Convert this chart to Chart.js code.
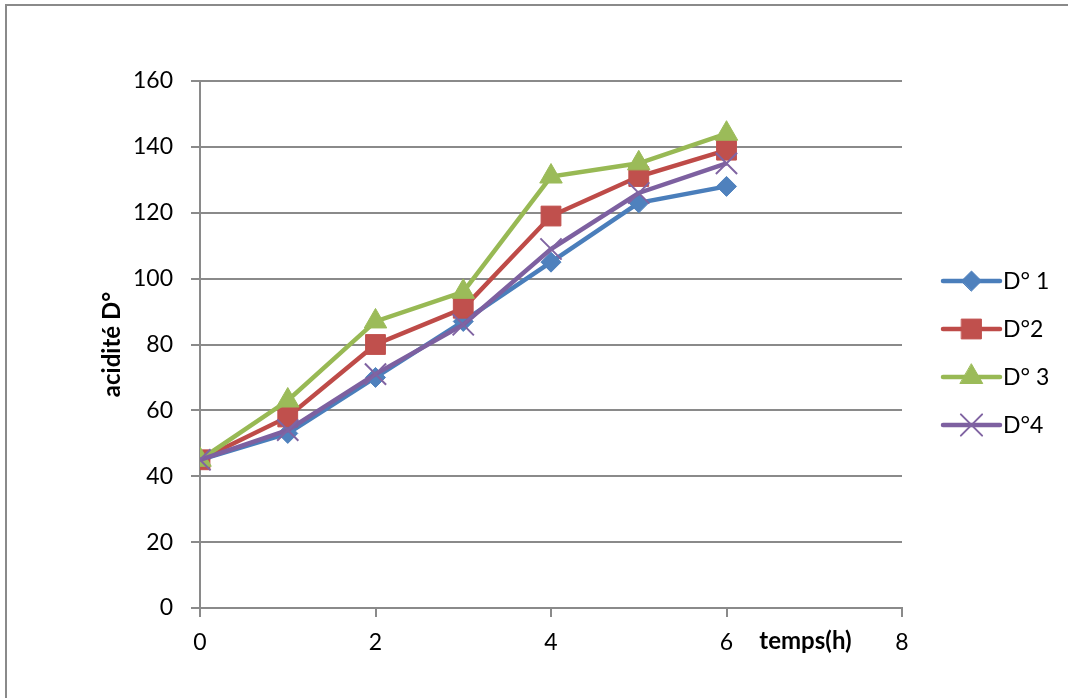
<!DOCTYPE html>
<html>
<head>
<meta charset="utf-8">
<script src="https://cdn.jsdelivr.net/npm/chart.js@4"></script>
<style>
  html, body { margin: 0; padding: 0; background: #fff; }
  #wrap { width: 1068px; height: 698px; }
</style>
</head>
<body>
<div id="wrap"><canvas id="acidChart" width="1068" height="698"></canvas></div>
<script>
// temps (h)
const hours = [0, 1, 2, 3, 4, 5, 6];
// acidité D° par essai
const serieD1 = [45, 53, 70, 87, 105, 123, 128];
const serieD2 = [45, 58, 80, 91, 119, 131, 139];
const serieD3 = [45, 63, 87, 96, 131, 135, 144];
const serieD4 = [45, 54, 71, 86, 109, 126, 135];
const seriesNames = ["D° 1", "D°2", "D° 3", "D°4"];

const GRID = "#8a8a8a";
const FONT = "Lato, 'Open Sans', sans-serif";

function pts(values) {
  return hours.map((h, i) => ({ x: h, y: values[i] }));
}

function makeSet(label, values, line, fill, style, radius, order) {
  return {
    label: label,
    data: pts(values),
    borderColor: line,
    backgroundColor: fill,
    borderWidth: 4.5,
    pointStyle: style,
    pointRadius: radius,
    pointBackgroundColor: fill,
    pointBorderColor: fill,
    pointBorderWidth: style === "crossRot" ? 2 : 1,
    tension: 0,
    order: order
  };
}

// cadre + titres d'axes + légende
const extras = {
  id: "extras",
  afterDraw(chart) {
    const ctx = chart.ctx;
    const xs = chart.scales.x;
    ctx.save();

    // cadre du graphique
    ctx.strokeStyle = GRID;
    ctx.lineWidth = 2;
    ctx.beginPath();
    ctx.moveTo(6, 720);
    ctx.lineTo(6, 5);
    ctx.lineTo(1100, 5);
    ctx.stroke();

    // titres
    ctx.fillStyle = "#000";
    ctx.font = "bold 24px " + FONT;
    ctx.textAlign = "center";
    ctx.textBaseline = "middle";
    ctx.fillText("temps(h)", xs.getPixelForValue(6.9), 641);
    ctx.save();
    ctx.translate(112, (chart.chartArea.top + chart.chartArea.bottom) / 2);
    ctx.rotate(-Math.PI / 2);
    ctx.fillText("acidité D°", 0, 0);
    ctx.restore();

    // légende
    const lx = 943, lw = 57, ly = 281, step = 48;
    chart.data.datasets.forEach((ds, i) => {
      const y = ly + i * step;
      ctx.strokeStyle = ds.borderColor;
      ctx.lineWidth = ds.borderWidth;
      ctx.lineCap = "round";
      ctx.beginPath();
      ctx.moveTo(lx, y);
      ctx.lineTo(lx + lw, y);
      ctx.stroke();
      ctx.fillStyle = ds.pointBackgroundColor;
      ctx.strokeStyle = ds.pointBorderColor;
      ctx.lineWidth = ds.pointBorderWidth;
      Chart.helpers.drawPoint(ctx, {
        pointStyle: ds.pointStyle,
        radius: ds.pointRadius,
        rotation: 0,
        borderWidth: ds.pointBorderWidth
      }, lx + lw / 2, y);
      ctx.fillStyle = "#000";
      ctx.font = "23px " + FONT;
      ctx.textAlign = "left";
      ctx.fillText(ds.label, lx + lw + 3, y + 1);
    });
    ctx.restore();
  }
};

new Chart(document.getElementById("acidChart").getContext("2d"), {
  type: "line",
  data: {
    datasets: [
      makeSet(seriesNames[0], serieD1, "#4A7EBB", "#4F81BD", "rectRot", 10, 4),
      makeSet(seriesNames[1], serieD2, "#BE4B48", "#C0504D", "rect", 14, 3),
      makeSet(seriesNames[2], serieD3, "#98B954", "#9BBB59", "triangle", 13, 2),
      makeSet(seriesNames[3], serieD4, "#7D60A0", "#8064A2", "crossRot", 15, 1)
    ]
  },
  options: {
    responsive: false,
    animation: false,
    events: [],
    layout: { padding: { top: 81, right: 166, left: 0, bottom: 0 } },
    plugins: {
      legend: { display: false },
      tooltip: { enabled: false }
    },
    scales: {
      x: {
        type: "linear",
        min: 0,
        max: 8,
        afterFit: (s) => { s.height = 90; },
        ticks: { stepSize: 2, color: "#000", font: { family: FONT, size: 23 }, padding: 12, maxRotation: 0 },
        grid: { drawOnChartArea: false, drawTicks: true, tickLength: 9, color: GRID, lineWidth: 2 },
        border: { display: true, color: GRID, width: 2 }
      },
      y: {
        min: 0,
        max: 160,
        afterFit: (s) => { s.width = 200; },
        ticks: { stepSize: 20, color: "#000", font: { family: FONT, size: 23 }, padding: 18 },
        grid: { drawTicks: true, tickLength: 9, color: GRID, lineWidth: 2 },
        border: { display: true, color: GRID, width: 2 }
      }
    }
  },
  plugins: [extras]
});
</script>
</body>
</html>
